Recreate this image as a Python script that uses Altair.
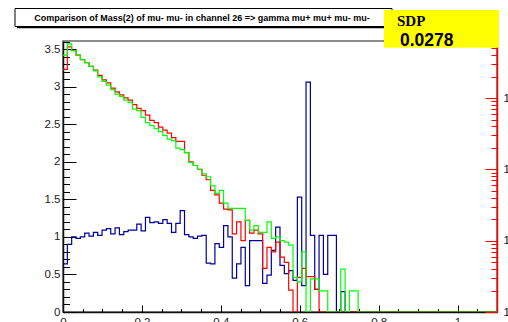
import altair as alt
import pandas as pd

# Histogram binning: 100 bins over [0, 1.1]
N_BINS = 100
X_MAX = 1.1
Y_MAX = 3.607
LOG_MAX = 6310.0

# Bin contents (bins after the last listed value are empty)
red_counts = [3.23, 3.53, 3.48, 3.42, 3.36, 3.32, 3.27, 3.22, 3.15, 3.09,
              3.05, 2.98, 2.93, 2.89, 2.85, 2.82, 2.76, 2.71, 2.68, 2.62,
              2.55, 2.52, 2.46, 2.42, 2.38, 2.32, 2.27, 2.27, 2.12, 2.00,
              1.95, 1.90, 1.82, 1.76, 1.62, 1.56, 1.45, 1.37, 1.36, 1.04,
              1.20, 0.95, 1.22, 1.05, 1.09, 1.04, 0.58, 0.86, 0.80, 0.93,
              0.73, 0.66, 0.29, 0.00, 0.46, 0.58, 0.47, 0.47, 0.30]

green_counts = [3.42, 3.57, 3.48, 3.42, 3.36, 3.32, 3.27, 3.21, 3.13, 3.07,
                3.02, 2.96, 2.90, 2.87, 2.82, 2.79, 2.70, 2.68, 2.59, 2.52,
                2.48, 2.44, 2.40, 2.35, 2.30, 2.28, 2.18, 2.16, 2.12, 1.99,
                1.95, 1.90, 1.84, 1.80, 1.68, 1.58, 1.62, 1.45, 1.38, 1.38,
                1.38, 1.38, 1.22, 1.09, 1.15, 1.06, 1.06, 1.20, 0.98, 1.00,
                0.95, 0.93, 0.89, 0.46, 0.40, 0.80, 0.00, 0.44, 0.44, 0.28,
                0.28, 0.00, 0.00, 0.00, 0.57, 0.00, 0.28, 0.28]

blue_counts = [0.64, 0.90, 1.00, 0.98, 1.00, 1.05, 1.01, 1.06, 1.02, 1.09,
               1.11, 1.04, 1.12, 1.03, 1.07, 1.09, 1.09, 1.17, 1.08, 1.26,
               1.19, 1.20, 1.18, 1.23, 1.18, 1.06, 1.18, 1.35, 1.03, 1.00,
               0.98, 1.01, 1.02, 0.65, 0.64, 0.91, 0.86, 1.15, 1.00, 0.45,
               0.64, 0.86, 0.35, 0.95, 0.95, 0.95, 0.38, 0.49, 0.82, 1.13,
               0.62, 0.51, 0.55, 0.42, 1.53, 0.35, 3.06, 1.02, 0.30, 1.02,
               0.50, 1.02, 1.02, 0.00, 0.27]

# Axis tick values
y_major = [0, 0.5, 1, 1.5, 2, 2.5, 3, 3.5]
y_minor = [round(0.1 * i, 1) for i in range(37)]
x_major = [0, 0.2, 0.4, 0.6, 0.8, 1]
x_minor = [round(0.05 * i, 2) for i in range(23)]
log_major = [1, 10, 100, 1000]
log_minor = [2, 3, 4, 5, 6, 7, 8, 9, 20, 30, 40, 50, 60, 70, 80, 90,
             200, 300, 400, 500, 600, 700, 800, 900, 2000, 3000, 4000, 5000, 6000]

title_text = ["Comparison of Mass(2) of mu- mu- in channel 26 => gamma mu+ mu+ mu- mu-"]
sdp_label = ["SDP"]
sdp_value = ["0.0278"]

FONT = "Liberation Sans"


def step_table(counts):
    full = counts + [0.0] * (N_BINS - len(counts))
    width = X_MAX / N_BINS
    edges = [i * width for i in range(N_BINS + 1)]
    return pd.DataFrame({"x": edges, "y": full + [full[-1]]})


xs = alt.Scale(domain=[0, X_MAX], nice=False, zero=False)
ys = alt.Scale(domain=[0, Y_MAX], nice=False, zero=False)
ls = alt.Scale(type="log", domain=[1, LOG_MAX], nice=False)

stub = pd.DataFrame({"v": [1.0]})


def hist(counts, color):
    return alt.Chart(step_table(counts)).mark_line(
        interpolate="step-after", color=color, strokeWidth=1.2, clip=True
    ).encode(
        x=alt.X("x:Q", scale=xs, axis=None),
        y=alt.Y("y:Q", scale=ys, axis=None),
    )


def y_axis(scale, axis):
    return alt.Chart(stub).mark_point(opacity=0).encode(
        y=alt.Y("v:Q", scale=scale, axis=axis))


def x_axis(axis):
    return alt.Chart(stub).mark_point(opacity=0).encode(
        x=alt.X("v:Q", scale=xs, axis=axis))


def tick_axis(orient, values, size, color="#000"):
    return alt.Axis(orient=orient, values=values, tickSize=size, offset=-size,
                    domain=False, labels=False, grid=False, title=None,
                    tickColor=color, tickWidth=1)


left_main = y_axis(ys, alt.Axis(orient="left", values=y_major, format="~g", ticks=False,
                                tickSize=0, labelPadding=3, labelFont=FONT,
                                labelFontSize=11.5, labelColor="#222", labelFlush=False,
                                labelOverlap=False, domainColor="#111", domainWidth=1.5,
                                grid=False, title=None))
left_major = y_axis(ys, tick_axis("left", y_major, 13))
left_minor = y_axis(ys, tick_axis("left", y_minor, 6.5))

bottom_main = x_axis(alt.Axis(orient="bottom", values=x_major, format="~g", ticks=False,
                              tickSize=0, labelPadding=4, labelFont=FONT,
                              labelFontSize=11.5, labelColor="#222", labelFlush=False,
                              labelOverlap=False, domainColor="#111", domainWidth=1.5,
                              grid=False, title=None))
bottom_major = x_axis(tick_axis("bottom", x_major, 7))
bottom_minor = x_axis(tick_axis("bottom", x_minor, 3.5))

right_main = y_axis(ls, alt.Axis(orient="right", values=log_major, ticks=False, tickSize=0,
                                 labelPadding=6, labelFont=FONT, labelFontSize=11.5,
                                 labelColor="#111", labelFlush=False, labelOverlap=False,
                                 labelExpr="datum.value < 100 ? format(datum.value, 'd') : (datum.value < 1000 ? '10²' : '10³')",
                                 domainColor="#ff0000", domainWidth=1.5, grid=False,
                                 title=None))
right_major = y_axis(ls, tick_axis("right", log_major, 12, "#ff0000"))
right_minor = y_axis(ls, tick_axis("right", log_minor, 6, "#ff0000"))

# Title pave with its drop shadow
title_shadow = alt.Chart(pd.DataFrame({"t": title_text})).mark_rect(color="#000").encode(
    x=alt.value(-46), x2=alt.value(331), y=alt.value(-31), y2=alt.value(-12.8))
title_box = alt.Chart(pd.DataFrame({"t": title_text})).mark_rect(
    fill="#ffffff", stroke="#000", strokeWidth=1).encode(
    x=alt.value(-48), x2=alt.value(329), y=alt.value(-32.5), y2=alt.value(-14.5))
title_label = alt.Chart(pd.DataFrame({"t": title_text})).mark_text(
    font=FONT, fontSize=9, fontWeight="bold", color="#000", align="center",
    baseline="alphabetic").encode(text="t:N", x=alt.value(139), y=alt.value(-20.5))

# Yellow statistics box
stat_box = alt.Chart(pd.DataFrame({"t": sdp_value})).mark_rect(color="#ffff00").encode(
    x=alt.value(321), x2=alt.value(436), y=alt.value(-31), y2=alt.value(6.7))
stat_name = alt.Chart(pd.DataFrame({"t": sdp_label})).mark_text(
    font="Liberation Serif", fontSize=15, fontWeight="bold", color="#000",
    align="left", baseline="alphabetic").encode(text="t:N", x=alt.value(334), y=alt.value(-15.3))
stat_value = alt.Chart(pd.DataFrame({"t": sdp_value})).mark_text(
    font=FONT, fontSize=17.5, fontWeight="bold", color="#000",
    align="left", baseline="alphabetic").encode(text="t:N", x=alt.value(337), y=alt.value(4.7))

chart = alt.layer(
    left_main, left_major, left_minor,
    bottom_main, bottom_major, bottom_minor,
    right_main, right_major, right_minor,
    hist(blue_counts, "#000099"),
    hist(red_counts, "#ff0000"),
    hist(green_counts, "#00ff00"),
    title_shadow, title_box, title_label,
    stat_box, stat_name, stat_value,
).resolve_scale(
    y="independent"
).resolve_axis(
    x="independent", y="independent"
).properties(
    width=434, height=271,
    padding={"left": 63, "top": 41, "right": 11, "bottom": 10},
    autosize=alt.AutoSizeParams(type="none"),
    background="#ffffff",
).configure_view(
    stroke="#666666", strokeWidth=1.5
)

chart.save("out.html", embed_options={"renderer": "svg", "actions": False})
